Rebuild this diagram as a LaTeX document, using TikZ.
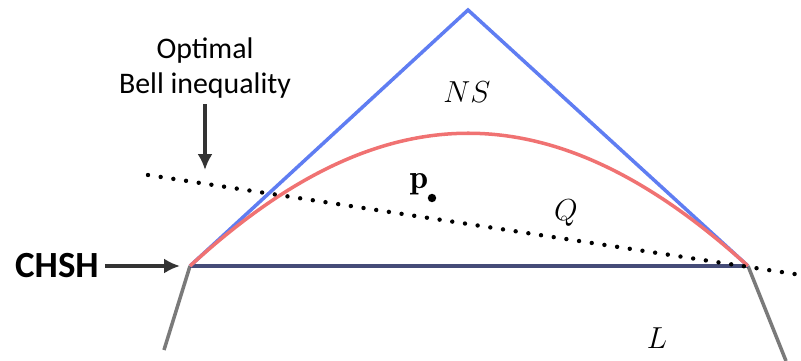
\documentclass[tikz,border=0pt]{standalone}
\usepackage{fontspec}
\setsansfont{Carlito}
\usetikzlibrary{arrows.meta,calc}
\definecolor{nsblue}{HTML}{5F7DF2}
\definecolor{qred}{HTML}{F07272}
\definecolor{basenavy}{HTML}{454C78}
\definecolor{lgray}{HTML}{7A7A7A}
\definecolor{arrowgray}{HTML}{333333}

\begin{document}
\begin{tikzpicture}[x=0.02cm,y=-0.02cm,>={Latex[length=9pt,width=8.5pt]}]
 \useasboundingbox (0,0) rectangle (801,361);
 \coordinate (apex) at (468,10);
 \coordinate (lc) at (190,266);
 \coordinate (rc) at (748,266);
 \coordinate (lfoot) at (164,350);
 \coordinate (rfoot) at (786,361);
 \coordinate (bstart) at (148,175);
 \coordinate (bend) at (801,275);
 \draw[lgray,line width=2pt] (lfoot)--(lc);
 \draw[lgray,line width=2pt] (rc)--(rfoot);
 \draw[basenavy,line width=2pt] (lc)--(rc);
 \draw[nsblue,line width=2pt,line join=miter] (lc)--(apex)--(rc);
 \draw[qred,line width=2pt] (lc) .. controls (383,89) and (553,89) .. (rc);
 \draw[line width=2.5pt,line cap=round,dash pattern=on 0pt off 7.3pt] (bstart)--(bend);
 \fill (432,198) circle (2.4pt) coordinate (pt);
 \node[font=\fontsize{17}{17}\selectfont] (ns) at (467,92) {$NS$};
 \node[font=\fontsize{17}{17}\selectfont] (q) at (566,213) {$Q$};
 \node[font=\fontsize{17}{17}\selectfont] (l) at (657,338) {$L$};
 \node[font=\fontsize{19}{19}\selectfont] (p) at (419,184) {$\mathbf{p}$};
 \node[font=\sffamily\fontsize{17}{19.5}\selectfont,align=center] (bell) at (205,68) {Optimal\\Bell inequality};
 \node[font=\sffamily\bfseries\fontsize{21}{21}\selectfont,anchor=west] (chsh) at (9,266) {CHSH};
 \coordinate (btip) at (205,170);
 \coordinate (ctip) at (180,266);
 \draw[->,arrowgray,line width=2.2pt] (bell.south) -- (btip);
 \draw[->,arrowgray,line width=2.2pt] (chsh.east) -- (ctip);
\end{tikzpicture}
\end{document}
